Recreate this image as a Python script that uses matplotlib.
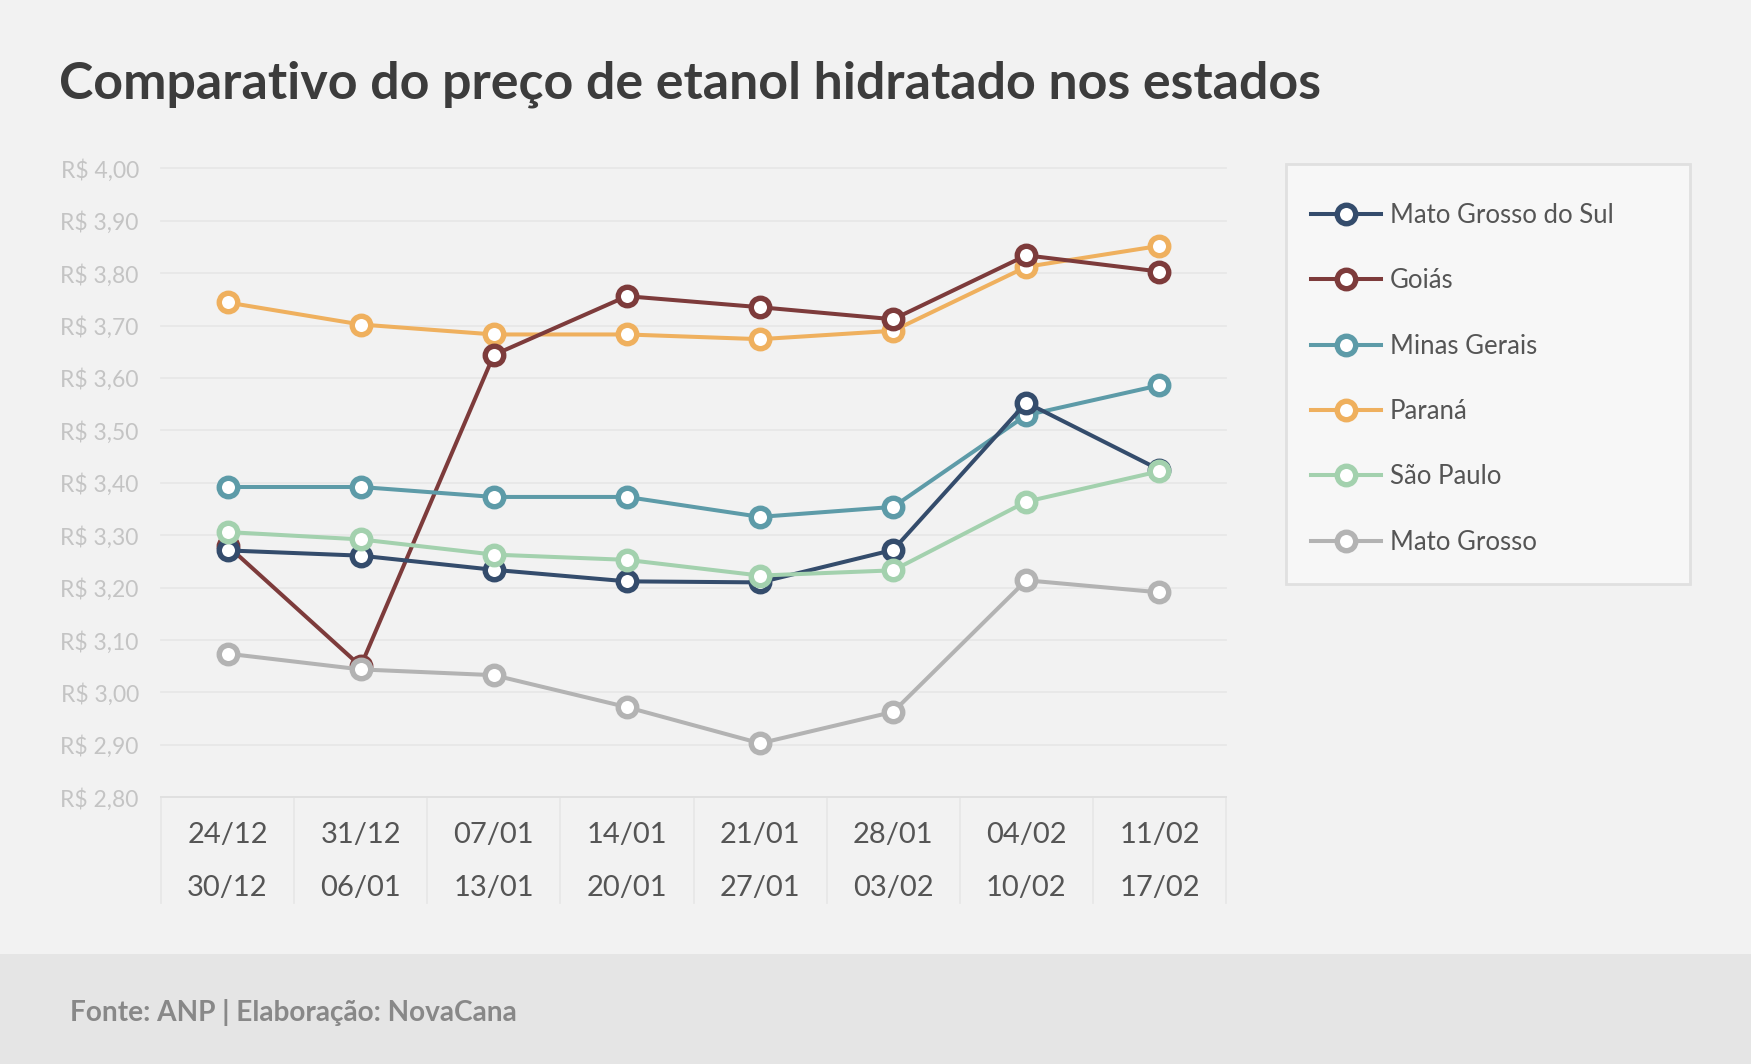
import matplotlib.pyplot as plt
import matplotlib.transforms as mtransforms
from matplotlib.lines import Line2D
from matplotlib.patches import Rectangle

plt.rcParams['font.family'] = ['Lato', 'DejaVu Sans']

# Semanas de coleta (início / fim)
semana_inicio = ['24/12', '31/12', '07/01', '14/01', '21/01', '28/01', '04/02', '11/02']
semana_fim = ['30/12', '06/01', '13/01', '20/01', '27/01', '03/02', '10/02', '17/02']

estados = ['Mato Grosso do Sul', 'Goiás', 'Minas Gerais', 'Paraná', 'São Paulo', 'Mato Grosso']

# Preço médio do etanol hidratado (R$/litro)
mato_grosso_do_sul = [3.271, 3.261, 3.234, 3.212, 3.210, 3.272, 3.553, 3.425]
goias = [3.280, 3.050, 3.644, 3.756, 3.735, 3.712, 3.834, 3.803]
minas_gerais = [3.392, 3.392, 3.373, 3.373, 3.335, 3.354, 3.529, 3.586]
parana = [3.744, 3.702, 3.683, 3.683, 3.674, 3.690, 3.812, 3.852]
sao_paulo = [3.306, 3.292, 3.263, 3.253, 3.223, 3.233, 3.364, 3.422]
mato_grosso = [3.074, 3.044, 3.033, 2.972, 2.903, 2.963, 3.214, 3.191]

y_ticks = [2.80, 2.90, 3.00, 3.10, 3.20, 3.30, 3.40, 3.50, 3.60, 3.70, 3.80, 3.90, 4.00]

cores = ['#344c6c', '#7d3b3b', '#5d9ba8', '#efb05e', '#a3d1ae', '#b3b3b3']
# ordem de desenho (quem fica por cima)
camadas = [5, 3, 4, 2, 6, 7]

FUNDO = '#f2f2f2'


def desenhar():
    series = [mato_grosso_do_sul, goias, minas_gerais, parana, sao_paulo, mato_grosso]
    x = list(range(len(semana_inicio)))

    fig = plt.figure(figsize=(17.51, 10.64), dpi=100, facecolor=FUNDO)

    # rodapé
    fig.patches.append(Rectangle((0, 0), 1, 110 / 1064, transform=fig.transFigure,
                                 facecolor='#e5e5e5', edgecolor='none', zorder=0))
    fig.text(70 / 1751, 43 / 1064, 'Fonte: ANP | Elaboração: NovaCana',
             fontsize=20.2, fontweight='bold', color='#888888', va='baseline')

    # título
    fig.text(59 / 1751, 1 - 98 / 1064, 'Comparativo do preço de etanol hidratado nos estados',
             fontsize=37.4, fontweight='bold', color='#3c3c3c', va='baseline')

    ax = fig.add_axes([161 / 1751, 1 - 797.3 / 1064, 1065 / 1751, 629 / 1064])
    ax.set_facecolor('none')

    for vals, nome, cor, z in zip(series, estados, cores, camadas):
        ax.plot(x, vals, color=cor, lw=2.9, marker='o', ms=13.3, mfc='white',
                mec=cor, mew=3.9, zorder=z, clip_on=False, label=nome)

    ax.set_xlim(-0.5, len(x) - 0.5)
    ax.set_ylim(2.80, 4.00)
    ax.set_yticks(y_ticks)
    ax.set_yticklabels([f'R$ {v:.2f}'.replace('.', ',') for v in y_ticks],
                       fontsize=16.5, color='#c4c4c4')
    ax.tick_params(axis='y', length=0, pad=16)
    ax.set_xticks([])
    ax.yaxis.grid(True, color='#e6e6e6', lw=1.2)
    for linha in ax.get_ygridlines():
        linha.set_clip_on(False)
    ax.set_axisbelow(True)

    for lado in ['top', 'right', 'left']:
        ax.spines[lado].set_visible(False)
    ax.spines['bottom'].set_color('#e0e0e0')
    ax.spines['bottom'].set_linewidth(1.4)

    # rótulos das semanas em duas linhas + divisórias
    trans = mtransforms.blended_transform_factory(ax.transData, ax.transAxes)
    for i, (a, b) in enumerate(zip(semana_inicio, semana_fim)):
        ax.text(i, -0.0605, a, transform=trans, ha='center', va='center',
                fontsize=21, color='#555555')
        ax.text(i, -0.1443, b, transform=trans, ha='center', va='center',
                fontsize=21, color='#555555')
    for k in range(len(x) + 1):
        ax.plot([k - 0.5, k - 0.5], [0, -0.168], transform=trans, color='#e6e6e6',
                lw=1.2, clip_on=False, zorder=1)

    # legenda
    fig.patches.append(Rectangle((1286 / 1751, 1 - 584 / 1064), 404 / 1751, 420 / 1064,
                                 transform=fig.transFigure, facecolor='#f7f7f7',
                                 edgecolor='#e0e0e0', linewidth=2, zorder=0))
    alcas = [Line2D([0], [0], color=c, lw=2.9, marker='o', ms=13.3, mfc='white',
                    mec=c, mew=3.9) for c in cores]
    leg = fig.legend(alcas, estados, loc='upper left',
                     bbox_to_anchor=(1311 / 1751, 1 - 203 / 1064),
                     frameon=False, fontsize=18.5, handlelength=2.72,
                     handletextpad=0.35, labelspacing=1.57,
                     borderpad=0, borderaxespad=0)
    for t in leg.get_texts():
        t.set_color('#555555')

    fig.savefig('out.png', dpi=100, facecolor=FUNDO)


if __name__ == '__main__':
    desenhar()
